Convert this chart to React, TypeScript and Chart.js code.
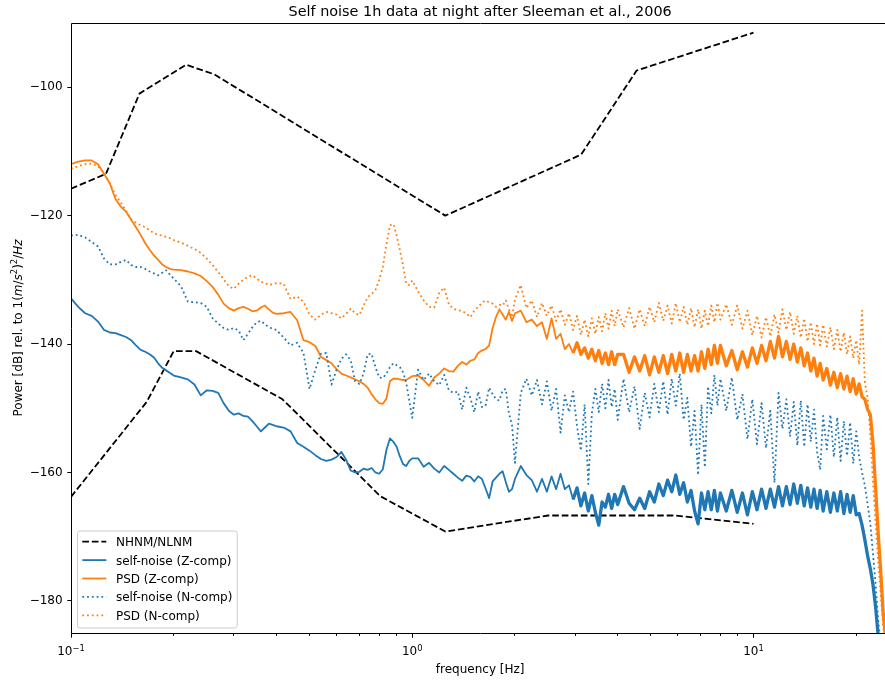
import React, { useEffect, useRef } from 'react';
import { Chart, registerables } from 'chart.js';

Chart.register(...registerables);

// ---------- data ----------
const FREQ = [
  0.100, 0.105, 0.110, 0.115, 0.120, 0.125, 0.130, 0.135, 0.140, 0.145,
  0.150, 0.155, 0.160, 0.165, 0.170, 0.175, 0.180, 0.185, 0.190, 0.195,
  0.20, 0.21, 0.22, 0.23, 0.24, 0.25, 0.26, 0.27, 0.28, 0.29,
  0.30, 0.31, 0.32, 0.33, 0.34, 0.35, 0.36, 0.37, 0.38, 0.39,
  0.40, 0.42, 0.44, 0.46, 0.48, 0.50, 0.52, 0.54, 0.56, 0.58,
  0.60, 0.62, 0.64, 0.66, 0.68, 0.70, 0.72, 0.74, 0.76, 0.78,
  0.80, 0.82, 0.84, 0.86, 0.88, 0.90, 0.92, 0.94, 0.96, 0.98,
  1.00,
  1.04, 1.08, 1.12, 1.16, 1.20, 1.24, 1.28, 1.32, 1.36, 1.40, 1.44, 1.48, 1.52, 1.56, 1.60, 1.64, 1.68, 1.72, 1.76, 1.80, 1.84, 1.88, 1.92, 1.96, 2.00,
  2.08, 2.16, 2.24, 2.32, 2.40, 2.48, 2.56, 2.64, 2.72, 2.80, 2.88, 2.96, 3.04, 3.12, 3.20, 3.28, 3.36, 3.44, 3.52, 3.60, 3.68, 3.76, 3.84, 3.92, 4.00,
  4.16, 4.32, 4.48, 4.64, 4.80, 4.96, 5.12, 5.28, 5.44, 5.60, 5.76, 5.92, 6.08, 6.24, 6.40, 6.56, 6.72, 6.88, 7.04, 7.20, 7.36, 7.52, 7.68, 7.84, 8.00,
  8.32, 8.64, 8.96, 9.28, 9.60, 9.92, 10.24, 10.56, 10.88, 11.20, 11.52, 11.84, 12.16, 12.48, 12.80, 13.12, 13.44, 13.76, 14.08, 14.40, 14.72, 15.04, 15.36, 15.68, 16.00,
  16.4, 16.8, 17.2, 17.6, 18.0, 18.4, 18.8, 19.2, 19.6, 20.0, 20.4, 20.8, 21.2, 21.6, 22.0, 22.4, 22.8, 23.2, 23.6, 24.0, 24.4,
];

const SELF_NOISE_Z = [
  -132.9, -134.2, -135.2, -135.6, -136.5, -137.8, -138.2, -138.3, -138.6, -138.9,
  -139.4, -140.2, -140.9, -141.2, -141.6, -142.1, -143.0, -143.7, -144.1, -144.5,
  -144.9, -145.2, -145.5, -146.3, -148.0, -147.2, -147.3, -147.6, -149.2, -150.4,
  -151.0, -150.8, -151.2, -151.3, -152.0, -152.8, -153.6, -153.0, -152.4, -152.6,
  -152.8, -153.0, -153.6, -155.4, -156.0, -156.6, -157.3, -157.9, -158.2, -158.0,
  -157.6, -156.8, -158.0, -159.7, -160.0, -159.9, -159.4, -159.6, -159.3, -160.0,
  -160.2, -159.5, -156.5, -154.7, -155.2, -156.0, -157.5, -158.7, -159.0, -158.2,
  -157.8,
  -157.8, -159.1, -158.5, -159.4, -160.0, -159.0, -159.6, -160.2, -160.8, -161.3, -160.5, -160.7, -161.4, -160.6, -161.0, -162.5, -164.0, -161.4, -160.8, -160.2, -159.8, -161.5, -163.0, -162.6, -161.0,
  -159.0, -160.4, -161.2, -163.0, -161.0, -163.0, -160.6, -162.6, -160.2, -162.6, -162.0, -164.2, -162.4, -165.2, -163.2, -166.0, -163.6, -166.2, -168.2, -164.6, -165.4, -163.4, -165.6, -163.4, -165.0,
  -162.2, -164.8, -165.8, -164.0, -165.6, -163.0, -164.6, -161.8, -163.6, -161.2, -163.0, -160.4, -163.4, -161.6, -164.6, -162.8, -166.0, -168.0, -163.2, -165.8, -163.0, -165.8, -162.8, -166.0, -163.2,
  -166.0, -162.8, -166.2, -163.2, -166.6, -163.0, -165.8, -162.6, -165.6, -162.6, -165.4, -162.2, -165.2, -162.2, -165.0, -161.8, -164.8, -162.0, -165.2, -162.4, -165.4, -162.6, -165.6, -162.8, -166.0,
  -163.0, -166.2, -163.2, -166.0, -163.0, -166.4, -163.4, -166.2, -163.6, -166.6, -166.4, -168.2, -170.5, -173.0, -175.0, -177.5, -181.0, -185.5, -188.0, -190.0, -191.0,
];

const PSD_Z = [
  -112.0, -111.6, -111.4, -111.4, -112.0, -113.5, -115.0, -117.4, -118.6, -119.4,
  -120.6, -121.8, -123.0, -124.3, -125.3, -126.2, -126.9, -127.6, -128.0, -128.3,
  -128.4, -128.5, -128.7, -129.0, -129.4, -130.2, -131.1, -132.3, -133.7, -134.4,
  -134.8, -134.4, -134.2, -134.5, -134.9, -134.8, -134.3, -134.0, -134.6, -135.1,
  -135.3, -135.2, -135.0, -136.3, -139.4, -139.7, -140.3, -142.0, -142.5, -143.0,
  -143.9, -144.6, -144.9, -145.2, -145.5, -145.8, -146.2, -146.8, -147.8, -148.6,
  -149.2, -149.3, -148.5, -145.8, -145.4, -145.4, -145.5, -145.6, -145.6, -145.3,
  -145.0,
  -144.9, -145.6, -146.5, -145.2, -144.6, -143.8, -144.2, -144.3, -143.4, -142.8, -143.2, -142.6, -142.4, -141.4, -141.0, -140.8, -140.2, -137.5, -135.8, -134.6, -135.4, -136.2, -135.0, -136.4, -135.2,
  -134.8, -136.6, -136.2, -137.2, -136.6, -139.2, -136.0, -139.2, -138.4, -140.8, -140.0, -141.4, -139.8, -141.6, -140.6, -142.2, -140.8, -142.6, -141.0, -143.0, -141.4, -143.2, -141.2, -143.2, -141.6,
  -141.6, -144.4, -142.0, -144.2, -141.8, -144.8, -142.0, -144.4, -141.8, -144.6, -141.6, -144.2, -141.4, -144.4, -141.6, -144.2, -141.8, -144.2, -141.2, -143.8, -140.8, -143.2, -140.2, -143.0, -140.2,
  -143.4, -141.0, -144.0, -141.2, -143.6, -140.6, -143.0, -140.2, -142.6, -139.6, -142.2, -138.8, -142.0, -139.6, -142.4, -140.0, -142.8, -140.6, -143.4, -141.4, -144.2, -142.2, -145.0, -143.0, -145.6,
  -143.8, -146.4, -144.4, -146.8, -144.6, -147.0, -145.0, -147.4, -145.4, -147.8, -146.2, -148.2, -148.6, -150.2, -151.0, -155.5, -162.5, -169.5, -175.5, -182.0, -186.0,
];

const SELF_NOISE_N = [
  -123.1, -123.0, -123.4, -124.1, -124.8, -126.7, -127.6, -127.6, -127.2, -126.9,
  -127.7, -128.0, -128.0, -128.3, -128.7, -129.0, -129.3, -128.9, -128.5, -129.2,
  -129.8, -131.0, -133.4, -133.5, -133.6, -134.2, -136.0, -136.8, -137.5, -137.8,
  -137.5, -137.9, -139.4, -138.4, -137.4, -136.6, -136.4, -136.9, -137.4, -137.6,
  -137.8, -139.0, -140.2, -139.8, -141.4, -147.0, -144.0, -141.5, -141.4, -146.3,
  -144.0, -142.3, -141.6, -142.5, -145.8, -146.2, -144.6, -141.6, -141.5, -143.6,
  -145.2, -145.3, -144.6, -143.6, -143.0, -143.3, -143.6, -144.4, -146.0, -148.8,
  -151.5,
  -144.0, -145.6, -144.6, -145.8, -146.4, -144.8, -147.2, -147.6, -147.4, -150.2, -146.8, -148.4, -150.6, -147.4, -149.8, -149.6, -146.8, -147.8, -148.6, -148.8, -147.2, -147.0, -150.8, -152.6, -158.5,
  -147.6, -145.4, -148.0, -145.6, -149.4, -145.8, -150.4, -147.0, -153.8, -148.0, -150.6, -147.4, -152.8, -156.6, -149.4, -161.8, -150.8, -147.0, -150.6, -146.2, -150.0, -145.6, -149.8, -147.0, -151.8,
  -145.4, -150.6, -146.6, -153.2, -147.6, -151.4, -146.2, -150.6, -145.8, -151.0, -145.4, -149.6, -144.6, -151.8, -148.4, -156.0, -150.4, -160.4, -149.4, -159.2, -146.6, -150.8, -144.8, -149.6, -145.4,
  -150.4, -145.2, -151.8, -147.8, -154.8, -148.6, -155.6, -149.2, -156.2, -150.4, -161.6, -147.6, -153.2, -148.6, -154.4, -149.0, -155.8, -148.8, -156.0, -149.4, -155.2, -150.2, -156.8, -159.6, -151.2,
  -156.4, -151.0, -157.6, -151.4, -158.2, -152.0, -157.4, -152.2, -158.6, -153.6, -157.6, -160.0, -162.0, -165.0, -168.0, -172.8, -177.5, -183.0, -187.0, -190.0, -191.0,
];

const PSD_N = [
  -112.7, -112.3, -112.0, -111.9, -112.3, -113.4, -115.0, -116.8, -118.0, -119.3,
  -120.6, -121.1, -121.5, -121.8, -122.3, -122.7, -123.0, -123.1, -123.3, -123.5,
  -123.8, -124.2, -124.7, -125.2, -125.8, -126.7, -127.7, -128.8, -129.9, -131.0,
  -131.4, -130.6, -130.0, -129.5, -129.3, -129.8, -130.3, -130.5, -130.8, -130.7,
  -130.5, -130.6, -133.0, -132.6, -133.4, -135.4, -136.2, -135.4, -135.0, -135.2,
  -135.4, -136.0, -135.3, -134.5, -135.2, -135.5, -134.0, -132.7, -132.2, -131.6,
  -130.0, -128.0, -124.5, -121.5, -121.3, -123.1, -125.4, -127.8, -130.6, -130.8,
  -130.1,
  -131.8, -133.2, -134.2, -134.3, -132.0, -131.2, -133.8, -134.5, -134.7, -134.9, -135.2, -135.8, -134.8, -134.2, -133.6, -133.2, -133.5, -133.7, -134.2, -133.9, -134.0, -133.2, -134.6, -135.8, -133.0,
  -130.8, -134.4, -133.2, -135.8, -133.6, -135.6, -134.0, -136.4, -134.6, -137.0, -135.2, -137.8, -135.6, -138.6, -136.2, -138.8, -136.0, -138.4, -135.8, -138.0, -135.2, -137.6, -134.8, -137.2, -134.6,
  -137.4, -134.4, -137.6, -134.6, -137.2, -134.2, -136.6, -133.6, -136.4, -134.0, -136.8, -133.6, -136.6, -134.2, -137.0, -134.4, -137.4, -134.6, -137.6, -134.8, -137.2, -134.0, -136.6, -133.6, -136.2,
  -133.8, -137.0, -134.0, -137.6, -134.8, -138.6, -135.6, -139.0, -135.8, -138.8, -135.4, -138.2, -134.6, -137.8, -135.0, -138.4, -135.6, -139.0, -136.0, -139.6, -136.6, -140.0, -136.8, -140.2, -137.0,
  -140.4, -137.4, -140.8, -137.8, -141.2, -138.2, -141.6, -138.8, -142.2, -139.4, -143.2, -134.8, -146.0, -148.4, -154.2, -161.6, -168.0, -174.0, -179.0, -184.0, -188.0,
];

// Peterson (1993) noise models
const NHNM_FREQ = [0.1, 0.1266, 0.1587, 0.2174, 0.2632, 1.25, 3.125, 4.545, 10];
const NHNM_DB = [-115.8, -113.5, -101.0, -96.5, -98.0, -120.0, -110.5, -97.4, -91.5];
const NLNM_FREQ = [0.1, 0.1667, 0.2, 0.2326, 0.4167, 0.8065, 1.25, 2.5, 5.882, 10];
const NLNM_DB = [-163.8, -149.0, -141.1, -141.1, -148.6, -163.7, -169.2, -166.7, -166.7, -168.0];

const Y_TICKS = [-180, -160, -140, -120, -100];
const X_MAJOR = [0.1, 1, 10];
const X_MAJOR_EXP = ['\u22121', '0', '1'];
const X_MINOR = [0.2, 0.3, 0.4, 0.5, 0.6, 0.7, 0.8, 0.9, 2, 3, 4, 5, 6, 7, 8, 9, 20];

const LEGEND_LABELS = ['NHNM/NLNM', 'self-noise (Z-comp)', 'PSD (Z-comp)', 'self-noise (N-comp)', 'PSD (N-comp)'];

const TITLE = 'Self noise 1h data at night after Sleeman et al., 2006';
const X_LABEL = 'frequency [Hz]';

// ---------- style ----------
const BLUE = '#1f77b4';
const ORANGE = '#ff7f0e';
const FONT = 'DejaVu Sans';
const FS = 12;
const LW = 1.8;
const BAND_LW = 3.3;
const DASHED = [6.66, 2.88];
const DOTTED = [1.8, 2.97];

const LEGEND_STYLES = [
  { color: '#000000', dash: DASHED },
  { color: BLUE, dash: [] as number[] },
  { color: ORANGE, dash: [] as number[] },
  { color: BLUE, dash: DOTTED },
  { color: ORANGE, dash: DOTTED },
];

const pts = (f: number[], v: number[]) => f.map((x, i) => ({ x, y: v[i] }));

const overlayPlugin = {
  id: 'overlay',
  afterDraw(chart: any) {
    const ctx: CanvasRenderingContext2D = chart.ctx;
    const { left, right, top, bottom } = chart.chartArea;
    const xs = chart.scales.x;
    const ys = chart.scales.y;
    ctx.save();
    ctx.setLineDash([]);
    ctx.strokeStyle = '#000';
    ctx.lineWidth = 1;
    const L = Math.floor(left) + 0.5;
    const T = Math.floor(top) + 0.5;
    const B = Math.floor(bottom) + 0.5;
    const R = Math.floor(right) + 0.5;
    ctx.beginPath();
    ctx.moveTo(L, T); ctx.lineTo(R, T); ctx.lineTo(R, B); ctx.lineTo(L, B); ctx.closePath();
    ctx.stroke();
    ctx.beginPath();
    X_MAJOR.forEach((v) => {
      const px = Math.floor(xs.getPixelForValue(v)) + 0.5;
      ctx.moveTo(px, B); ctx.lineTo(px, B + 4.2);
    });
    X_MINOR.forEach((v) => {
      const px = Math.floor(xs.getPixelForValue(v)) + 0.5;
      ctx.moveTo(px, B); ctx.lineTo(px, B + 2.4);
    });
    Y_TICKS.forEach((v) => {
      const py = Math.floor(ys.getPixelForValue(v)) + 0.5;
      ctx.moveTo(L, py); ctx.lineTo(L - 4.2, py);
    });
    ctx.stroke();

    ctx.fillStyle = '#000';
    ctx.textBaseline = 'alphabetic';
    X_MAJOR.forEach((v, i) => {
      const px = xs.getPixelForValue(v);
      ctx.font = `${FS}px "${FONT}"`;
      const wm = ctx.measureText('10').width;
      ctx.font = `${FS * 0.7}px "${FONT}"`;
      const ws = ctx.measureText(X_MAJOR_EXP[i]).width;
      const x0 = px - (wm + ws) / 2;
      ctx.textAlign = 'left';
      ctx.font = `${FS}px "${FONT}"`;
      ctx.fillText('10', x0, 654.5);
      ctx.font = `${FS * 0.7}px "${FONT}"`;
      ctx.fillText(X_MAJOR_EXP[i], x0 + wm, 650.7);
    });

    ctx.font = `${FS}px "${FONT}"`;
    ctx.textAlign = 'center';
    ctx.fillText(X_LABEL, (left + right) / 2, 673);

    ctx.font = `14.4px "${FONT}"`;
    ctx.fillText(TITLE, (left + right) / 2, 15.8);

    const segs = [
      { t: 'Power [dB] rel. to 1', f: `${FS}px "${FONT}"`, dy: 0 },
      { t: '(', f: `${FS}px "${FONT}"`, dy: 0 },
      { t: 'm', f: `italic ${FS}px "${FONT}"`, dy: 0 },
      { t: '/', f: `${FS}px "${FONT}"`, dy: 0 },
      { t: 's', f: `italic ${FS}px "${FONT}"`, dy: 0 },
      { t: '2', f: `${FS * 0.7}px "${FONT}"`, dy: -4.6 },
      { t: ')', f: `${FS}px "${FONT}"`, dy: 0 },
      { t: '2', f: `${FS * 0.7}px "${FONT}"`, dy: -4.6 },
      { t: '/', f: `${FS}px "${FONT}"`, dy: 0 },
      { t: 'Hz', f: `italic ${FS}px "${FONT}"`, dy: 0 },
    ];
    let total = 0;
    const widths = segs.map((s) => { ctx.font = s.f; const w = ctx.measureText(s.t).width; total += w; return w; });
    ctx.save();
    ctx.translate(21.5, (top + bottom) / 2);
    ctx.rotate(-Math.PI / 2);
    ctx.textAlign = 'left';
    let cx = -total / 2;
    segs.forEach((s, i) => { ctx.font = s.f; ctx.fillText(s.t, cx, s.dy); cx += widths[i]; });
    ctx.restore();

    ctx.font = `${FS}px "${FONT}"`;
    let maxW = 0;
    LEGEND_LABELS.forEach((l) => { maxW = Math.max(maxW, ctx.measureText(l).width); });
    const bx = left + 6.5;
    const by = 531;
    const bw = 4.8 + 24 + 9.6 + maxW + 4.8;
    const bh = 97;
    const r = 2.4;
    ctx.beginPath();
    ctx.moveTo(bx + r, by);
    ctx.lineTo(bx + bw - r, by);
    ctx.arcTo(bx + bw, by, bx + bw, by + r, r);
    ctx.lineTo(bx + bw, by + bh - r);
    ctx.arcTo(bx + bw, by + bh, bx + bw - r, by + bh, r);
    ctx.lineTo(bx + r, by + bh);
    ctx.arcTo(bx, by + bh, bx, by + bh - r, r);
    ctx.lineTo(bx, by + r);
    ctx.arcTo(bx, by, bx + r, by, r);
    ctx.closePath();
    ctx.fillStyle = 'rgba(255,255,255,0.8)';
    ctx.fill();
    ctx.strokeStyle = '#cccccc';
    ctx.lineWidth = 1;
    ctx.stroke();
    LEGEND_LABELS.forEach((l, i) => {
      const yc = 541.7 + i * 18.4;
      const st = LEGEND_STYLES[i];
      ctx.beginPath();
      ctx.setLineDash(st.dash);
      ctx.strokeStyle = st.color;
      ctx.lineWidth = LW;
      ctx.lineCap = 'butt';
      ctx.moveTo(bx + 4.8, yc);
      ctx.lineTo(bx + 4.8 + 24, yc);
      ctx.stroke();
      ctx.setLineDash([]);
      ctx.fillStyle = '#000';
      ctx.textAlign = 'left';
      ctx.fillText(l, bx + 4.8 + 24 + 9.6, yc + 4.4);
    });
    ctx.restore();
  },
};

export default function App() {
  const ref = useRef<HTMLCanvasElement>(null);
  useEffect(() => {
    document.body.style.margin = '0';
    const canvas = ref.current;
    if (!canvas) return;
    const common = {
      pointRadius: 0,
      pointHoverRadius: 0,
      borderWidth: LW,
      tension: 0,
      fill: false,
      clip: 0,
      borderJoinStyle: 'round' as const,
      borderCapStyle: 'butt' as const,
    };
    // dense high-frequency PSD estimates render as a thick band
    const bandSegment = {
      borderWidth: (c: any) => (c.p0.parsed.x >= 2.9 ? BAND_LW : LW),
    };
    const chart = new Chart(canvas, {
      type: 'line',
      data: {
        datasets: [
          { ...common, label: 'NHNM', data: pts(NHNM_FREQ, NHNM_DB), borderColor: '#000', borderDash: DASHED, order: 6 },
          { ...common, label: 'NLNM', data: pts(NLNM_FREQ, NLNM_DB), borderColor: '#000', borderDash: DASHED, order: 5 },
          { ...common, label: 'self-noise (Z-comp)', data: pts(FREQ, SELF_NOISE_Z), borderColor: BLUE, segment: bandSegment, order: 4 },
          { ...common, label: 'PSD (Z-comp)', data: pts(FREQ, PSD_Z), borderColor: ORANGE, segment: bandSegment, order: 3 },
          { ...common, label: 'self-noise (N-comp)', data: pts(FREQ, SELF_NOISE_N), borderColor: BLUE, borderDash: DOTTED, order: 2 },
          { ...common, label: 'PSD (N-comp)', data: pts(FREQ, PSD_N), borderColor: ORANGE, borderDash: DOTTED, order: 1 },
        ],
      },
      options: {
        responsive: false,
        animation: false,
        devicePixelRatio: 1,
        events: [],
        layout: { padding: { top: 23, left: 0, right: 1.7, bottom: 0 } },
        plugins: {
          legend: { display: false },
          tooltip: { enabled: false },
          title: { display: false },
        },
        scales: {
          x: {
            type: 'logarithmic',
            min: 0.1,
            max: 25,
            position: 'bottom',
            grid: { display: false, drawTicks: false, tickLength: 0 },
            border: { display: false },
            ticks: { display: false },
            afterFit: (s: any) => { s.height = 48; },
          },
          y: {
            type: 'linear',
            min: -185,
            max: -90,
            position: 'left',
            grid: { display: false, drawTicks: false, tickLength: 0 },
            border: { display: false },
            ticks: {
              color: '#000',
              font: { family: FONT, size: FS },
              padding: 8.4,
              autoSkip: false,
              callback: (v: any) => (Number(v) < 0 ? '\u2212' : '') + Math.abs(Number(v)),
            },
            afterBuildTicks: (s: any) => { s.ticks = Y_TICKS.map((v) => ({ value: v })); },
            afterFit: (s: any) => { s.width = 71; },
          },
        },
      },
      plugins: [overlayPlugin],
    } as any);
    return () => chart.destroy();
  }, []);
  return (
    <div style={{ width: 885, height: 681, overflow: 'hidden', position: 'relative' }}>
      <canvas ref={ref} width={891} height={681} style={{ display: 'block', width: 891, height: 681 }} />
    </div>
  );
}
